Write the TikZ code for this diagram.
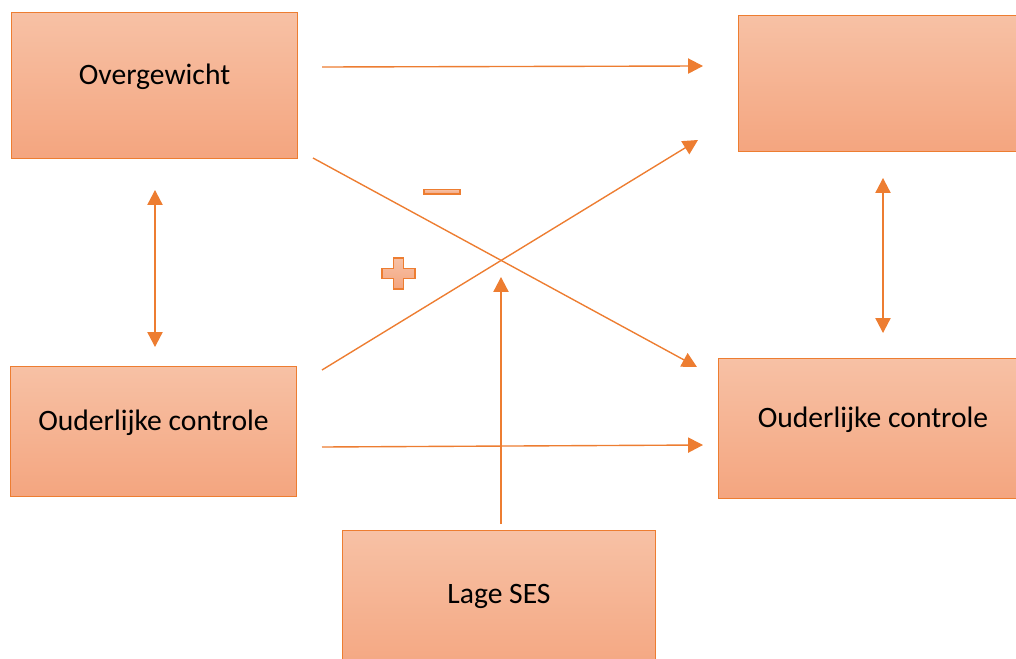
\documentclass[tikz,border=0pt]{standalone}
\usepackage{fontspec}
\setmainfont{Carlito}
\usetikzlibrary{arrows.meta}
\pgfdeclarelayer{edgelayer}
\pgfdeclarelayer{nodelayer}
\pgfsetlayers{edgelayer,nodelayer,main}
\definecolor{boxline}{HTML}{ED7D31}
\definecolor{boxtop}{HTML}{F7C1A5}
\definecolor{boxbottom}{HTML}{F4A57F}
\tikzstyle{factor}=[rectangle,draw=boxline,line width=1pt,top color=boxtop,bottom color=boxbottom,font=\fontsize{21.4}{25}\selectfont,text height=13pt,text depth=15pt]
\tikzstyle{effect}=[-{Triangle[length=10.8pt,width=11pt]},draw=boxline,line width=1pt]
\tikzstyle{link}=[{Triangle[length=10.8pt,width=11pt]}-{Triangle[length=10.8pt,width=11pt]},draw=boxline,line width=1pt]
\tikzstyle{sign}=[draw=boxline,line width=1pt,top color=boxtop,bottom color=boxbottom]

\begin{document}
\begin{tikzpicture}[x=0.0254cm,y=-0.0254cm]
	\clip (0,0) rectangle (1016,659);
	\begin{pgfonlayer}{nodelayer}
		\node [style=factor,minimum width={287*0.72pt},minimum height={147*0.72pt}] (0) at (154.5, 85.5) {Overgewicht};
		\node [style=factor,minimum width={290*0.72pt},minimum height={137*0.72pt}] (1) at (883, 83.5) {};
		\node [style=factor,minimum width={287*0.72pt},minimum height={131*0.72pt}] (2) at (153.5, 431.5) {Ouderlijke controle};
		\node [style=factor,minimum width={310*0.72pt},minimum height={141*0.72pt}] (3) at (873, 428.5) {Ouderlijke controle};
		\node [style=factor,minimum width={314*0.72pt},minimum height={150*0.72pt}] (4) at (499, 605) {Lage SES};
		\coordinate (10) at (322, 67);
		\coordinate (11) at (703, 66);
		\coordinate (12) at (313, 158);
		\coordinate (13) at (697, 367);
		\coordinate (14) at (322, 370);
		\coordinate (15) at (698, 140);
		\coordinate (16) at (322, 447);
		\coordinate (17) at (703, 445);
		\coordinate (18) at (155, 190);
		\coordinate (19) at (155, 347);
		\coordinate (20) at (883, 178);
		\coordinate (21) at (883, 333);
		\coordinate (22) at (501, 524);
		\coordinate (23) at (501, 277);
	\end{pgfonlayer}
	\begin{pgfonlayer}{edgelayer}
		\draw [style=effect] (10) to (11);
		\draw [style=effect] (12) to (13);
		\draw [style=effect] (14) to (15);
		\draw [style=effect] (16) to (17);
		\draw [style=link] (18) to (19);
		\draw [style=link] (20) to (21);
		\draw [style=effect] (22) to (23);
	\end{pgfonlayer}
	% signs
	\draw [style=sign] (424, 189.5) rectangle (460, 194);
	\draw [style=sign] (393.5, 258) -- (403.5, 258) -- (403.5, 268.5) -- (415, 268.5) -- (415, 278.5)
		-- (403.5, 278.5) -- (403.5, 289) -- (393.5, 289) -- (393.5, 278.5) -- (382, 278.5)
		-- (382, 268.5) -- (393.5, 268.5) -- cycle;
\end{tikzpicture}
\end{document}
